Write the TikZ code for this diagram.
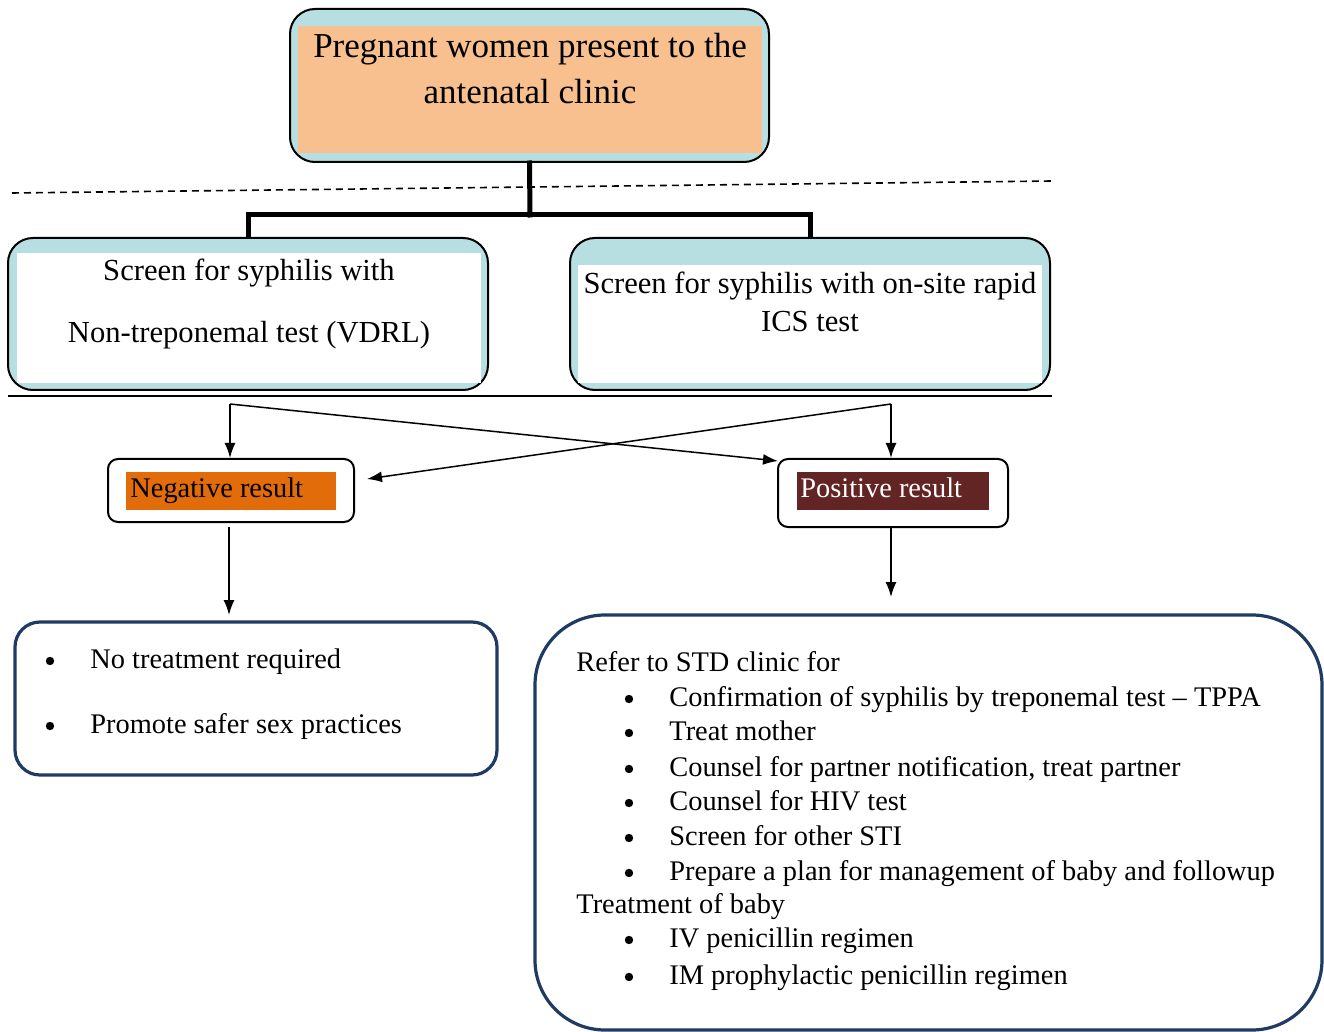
\documentclass[tikz,border=0pt]{standalone}
\usepackage{fontspec}
\setmainfont{Liberation Serif}
\usetikzlibrary{arrows.meta}
\definecolor{boxblue}{HTML}{B7DFE1}
\definecolor{peach}{HTML}{F8BF8F}
\definecolor{negorange}{HTML}{E36C0A}
\definecolor{posbrown}{HTML}{632523}
\definecolor{navy}{HTML}{1F3A63}
\begin{document}
\begin{tikzpicture}[x=0.5pt,y=-0.5pt,
  outerbox/.style={draw=black,line width=1pt,fill=boxblue,rounded corners=12.5pt,inner sep=0pt},
  innerbox/.style={fill=#1,draw=none,inner sep=0pt},
  resbox/.style={draw=black,line width=1pt,fill=white,rounded corners=5pt,inner sep=0pt},
  endbox/.style={draw=navy,line width=1.6pt,fill=white,inner sep=0pt},
  titletxt/.style={anchor=base,inner sep=0pt,font=\fontsize{17.5pt}{21pt}\selectfont},
  screentxt/.style={anchor=base,inner sep=0pt,font=\fontsize{15.3pt}{18pt}\selectfont},
  bodytxt/.style={anchor=base west,inner sep=0pt,font=\fontsize{14.2pt}{17pt}\selectfont},
  bul/.style={circle,fill=black,draw=none,inner sep=0pt,minimum size=4.2pt},
  trunk/.style={line width=2.5pt,line join=miter,line cap=rect},
  arr/.style={line width=0.75pt,-{Latex[length=7.5pt,width=5.5pt]}}
]
\useasboundingbox (0,0) rectangle (1324,1032);

% top box
\node[outerbox,minimum width=239.5pt,minimum height=76.5pt] (top) at (529.5,85.5) {};
\node[innerbox=peach,minimum width=232pt,minimum height=63.5pt] (topin) at (530,89.5) {};
\node[titletxt] (t1) at (530,58) {Pregnant women present to the};
\node[titletxt] (t2) at (530,104) {antenatal clinic};

% dashed separator
\coordinate (dA) at (12,193);
\coordinate (dB) at (1052,181);
\draw[line width=0.8pt,dash pattern=on 3.5pt off 2.5pt] (dA) -- (dB);

% screening boxes
\node[outerbox,minimum width=240pt,minimum height=76pt] (left) at (248,314) {};
\node[innerbox=white,minimum width=232pt,minimum height=65pt] (leftin) at (249,318) {};
\node[screentxt] (l1) at (249,281) {Screen for syphilis with};
\node[screentxt] (l2) at (249,343) {Non-treponemal test (VDRL)};

\node[outerbox,minimum width=240pt,minimum height=76pt] (right) at (810,314) {};
\node[innerbox=white,minimum width=232pt,minimum height=59pt] (rightin) at (810,324) {};
\node[screentxt] (r1) at (810,294) {Screen for syphilis with on-site rapid};
\node[screentxt] (r2) at (810,332) {ICS test};

% trunk connectors
\coordinate (J) at (530,215);
\draw[trunk] (top.south) -- (J);
\draw[trunk] (left.north) |- (J) -| (right.north);

% solid separator
\coordinate (sA) at (8,396);
\coordinate (sB) at (1052,396);
\draw[line width=1pt] (sA) -- (sB);

% result boxes
\node[resbox,minimum width=123pt,minimum height=31.5pt] (neg) at (231,490.5) {};
\node[innerbox=negorange,minimum width=105pt,minimum height=19pt] (negin) at (231,491) {};
\node[bodytxt] (negt) at (130,497) {Negative result};

\node[resbox,minimum width=115pt,minimum height=34pt] (pos) at (893,493) {};
\node[innerbox=posbrown,minimum width=96pt,minimum height=19pt] (posin) at (893,491) {};
\node[bodytxt,text=white] (post) at (800,497) {Positive result};

% crossing arrows
\coordinate (L0) at (230,404);
\coordinate (R0) at (891,404);
\coordinate (negtip) at (367,479);
\coordinate (postip) at (778,461);
\draw[arr] (L0) -- (L0 |- neg.north);
\draw[arr] (L0) -- (postip);
\draw[arr] (R0) -- (R0 |- pos.north);
\draw[arr] (R0) -- (negtip);

% outcome boxes
\node[endbox,rounded corners=12.5pt,minimum width=241pt,minimum height=76.5pt] (noTx) at (256,698.5) {};
\node[bul] (nb1) at (50,661) {};
\node[bodytxt] (n1) at (90,668) {No treatment required};
\node[bul] (nb2) at (50,726) {};
\node[bodytxt] (n2) at (90,733) {Promote safer sex practices};

\node[endbox,rounded corners=35pt,minimum width=393.5pt,minimum height=207.5pt] (refer) at (928.5,822.5) {};
\node[bodytxt] (p0) at (576,671) {Refer to STD clinic for};
\node[bul] (pb1) at (629,699) {};
\node[bodytxt] (p1) at (669,706) {Confirmation of syphilis by treponemal test – TPPA};
\node[bul] (pb2) at (629,733) {};
\node[bodytxt] (p2) at (669,740) {Treat mother};
\node[bul] (pb3) at (629,769) {};
\node[bodytxt] (p3) at (669,776) {Counsel for partner notification, treat partner};
\node[bul] (pb4) at (629,803) {};
\node[bodytxt] (p4) at (669,810) {Counsel for HIV test};
\node[bul] (pb5) at (629,838) {};
\node[bodytxt] (p5) at (669,845) {Screen for other STI};
\node[bul] (pb6) at (629,873) {};
\node[bodytxt] (p6) at (669,880) {Prepare a plan for management of baby and followup};
\node[bodytxt] (p7) at (576,913) {Treatment of baby};
\node[bul] (pb8) at (629,940) {};
\node[bodytxt] (p8) at (669,947) {IV penicillin regimen};
\node[bul] (pb9) at (629,977) {};
\node[bodytxt] (p9) at (669,984) {IM prophylactic penicillin regimen};

% downward arrows
\coordinate (nd0) at (229,527);
\coordinate (nd1) at (229,615);
\coordinate (pd0) at (891,527);
\coordinate (pd1) at (891,597);
\draw[arr] (nd0) -- (nd1);
\draw[arr] (pd0) -- (pd1);
\end{tikzpicture}
\end{document}
